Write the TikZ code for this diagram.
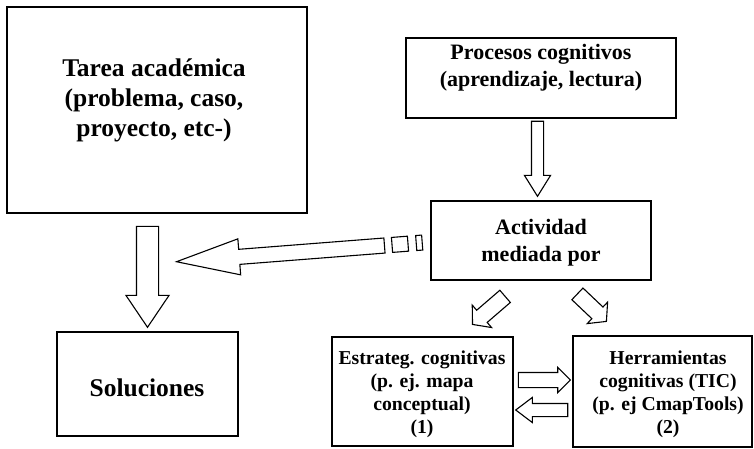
\documentclass[tikz,border=0pt]{standalone}
\usepackage{fontspec}
\setmainfont{Liberation Serif}
\usetikzlibrary{shapes.arrows}

\tikzset{
  box/.style={draw, line width=1.5pt, inner sep=0pt},
  bigtxt/.style={align=center, inner sep=0pt, font=\bfseries\fontsize{25.5}{30}\selectfont},
  midtxt/.style={align=center, inner sep=0pt, font=\bfseries\fontsize{22}{27}\selectfont},
  smalltxt/.style={align=center, inner sep=0pt, font=\bfseries\fontsize{19.7}{23}\selectfont},
  fatarrow/.style={single arrow, draw, line width=1.1pt, inner xsep=0pt, fill=white, anchor=tail},
  dashbit/.style={draw, line width=1.1pt, inner sep=0pt},
}

\begin{document}
\begin{tikzpicture}[x=1pt, y=-1pt]

	\useasboundingbox (0,0) rectangle (754,449);

	%boxes
	\node[box, minimum width=300pt, minimum height=206pt] (tarea) at (157,110) {};
	\node[bigtxt] (tareatxt) at (154,100.5) {Tarea académica\\(problema, caso,\\proyecto, etc-)};
	\node[box, minimum width=270pt, minimum height=80pt] (procesos) at (541,78) {};
	\node[midtxt] (procesostxt) at (541,68) {Procesos cognitivos\\(aprendizaje, lectura)};
	\node[box, minimum width=220pt, minimum height=79pt] (actividad) at (541,240.5) {};
	\node[midtxt] (actividadtxt) at (541,243) {Actividad\\mediada por};
	\node[box, minimum width=181pt, minimum height=104pt] (soluciones) at (147.5,384) {};
	\node[bigtxt] (solucionestxt) at (147,387.5) {Soluciones};
	\node[box, minimum width=181pt, minimum height=109pt] (estrateg) at (422.5,391.5) {};
	\node[smalltxt] (estrategtxt) at (422,394) {Estrateg. cognitivas\\(p. ej. mapa\\conceptual)\\(1)};
	\node[box, minimum width=179pt, minimum height=111pt] (herram) at (662.5,391.5) {};
	\node[smalltxt] (herramtxt) at (668,394) {Herramientas\\cognitivas (TIC)\\(p. ej CmapTools)\\(2)};

	%block arrows
	\node[fatarrow, rotate=-90, minimum height=75pt, inner ysep=5.5pt,
		single arrow head extend=7pt, single arrow tip angle=64]
		(flechaproc) at ([xshift=-3.5pt, yshift=-2pt]procesos.south) {};
	\node[fatarrow, rotate=-90, minimum height=101pt, inner ysep=10.5pt,
		single arrow head extend=10.5pt, single arrow tip angle=68]
		(flechatarea) at ([xshift=-9.5pt, yshift=-12pt]tarea.south) {};
	\node[fatarrow, rotate=220.75, minimum height=43pt, inner ysep=7.5pt,
		single arrow head extend=6.75pt, single arrow tip angle=100]
		(flechaizq) at (505.5,296) {};
	\node[fatarrow, rotate=-43.5, minimum height=40pt, inner ysep=7.5pt,
		single arrow head extend=6.75pt, single arrow tip angle=100]
		(flechader) at (577,293.5) {};
	\node[fatarrow, minimum height=52pt, inner ysep=7pt,
		single arrow head extend=5pt, single arrow tip angle=90]
		(flechaida) at ([xshift=4pt]estrateg.east |- 0,380) {};
	\node[fatarrow, rotate=180, minimum height=52pt, inner ysep=6pt,
		single arrow head extend=6pt, single arrow tip angle=74]
		(flechavuelta) at ([xshift=-4pt]herram.west |- 0,410) {};

	%dashed arrow towards the task
	\node[fatarrow, rotate=184.45, minimum height=208.6pt, inner ysep=7pt,
		single arrow head extend=10.5pt, single arrow tip angle=32]
		(flechasol) at (385,245.5) {};
	\node[dashbit, rotate=4.45, minimum width=16pt, minimum height=15pt] (trozo1) at (400,244.3) {};
	\node[dashbit, rotate=4.45, minimum width=6pt, minimum height=15pt] (trozo2) at (419.2,242.8) {};

\end{tikzpicture}
\end{document}
